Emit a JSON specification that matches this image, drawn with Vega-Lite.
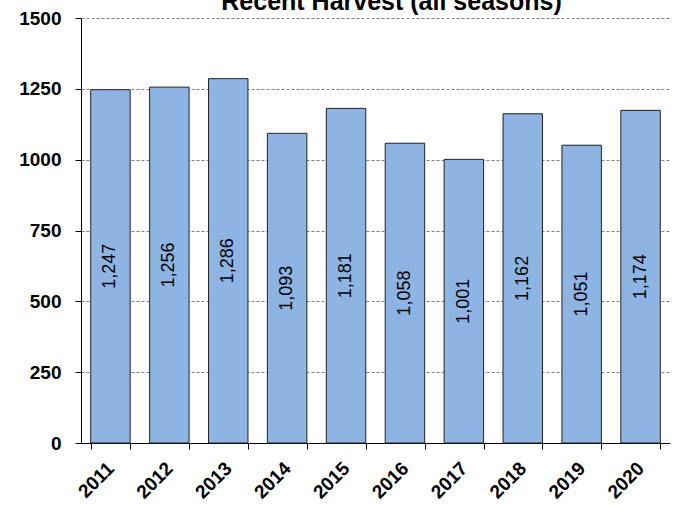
{
  "$schema": "https://vega.github.io/schema/vega-lite/v6.json",
  "width": 589,
  "height": 425,
  "autosize": "none",
  "padding": {"left": 81, "top": 18, "right": 5, "bottom": 63},
  "background": "white",
  "title": {
    "text": "Recent Harvest (all seasons)",
    "font": "Liberation Sans",
    "fontSize": 25,
    "fontWeight": "bold",
    "color": "black",
    "frame": "group",
    "offset": -6,
    "dx": 16
  },
  "data": {
    "values": [
      {"year": "2011", "harvest": 1247},
      {"year": "2012", "harvest": 1256},
      {"year": "2013", "harvest": 1286},
      {"year": "2014", "harvest": 1093},
      {"year": "2015", "harvest": 1181},
      {"year": "2016", "harvest": 1058},
      {"year": "2017", "harvest": 1001},
      {"year": "2018", "harvest": 1162},
      {"year": "2019", "harvest": 1051},
      {"year": "2020", "harvest": 1174}
    ]
  },
  "encoding": {
    "x": {
      "field": "year",
      "type": "ordinal",
      "scale": {"paddingInner": 0.33, "paddingOuter": 0.165},
      "axis": {
        "title": null,
        "labelAngle": -45,
        "labelAlign": "right",
        "labelBaseline": "middle",
        "labelFont": "Liberation Sans",
        "labelFontSize": 19,
        "labelFontWeight": "bold",
        "labelColor": "black",
        "labelPadding": 16,
        "tickBand": "extent",
        "tickSize": 6,
        "tickColor": "black",
        "domainColor": "black",
        "grid": false
      }
    }
  },
  "layer": [
    {
      "mark": {"type": "bar", "fill": "#8DB4E2", "stroke": "#222222", "strokeWidth": 1},
      "encoding": {
        "y": {
          "field": "harvest",
          "type": "quantitative",
          "scale": {"domain": [0, 1500], "nice": false},
          "axis": {
            "title": null,
            "values": [0, 250, 500, 750, 1000, 1250, 1500],
            "format": "d",
            "grid": true,
            "gridDash": [3, 2],
            "gridColor": "#808080",
            "gridWidth": 1,
            "tickSize": 6,
            "tickColor": "black",
            "domainColor": "black",
            "labelFont": "Liberation Sans",
            "labelFontSize": 19,
            "labelFontWeight": "bold",
            "labelColor": "black",
            "labelPadding": 14
          }
        }
      }
    },
    {
      "mark": {"type": "text", "angle": 270, "fontSize": 18, "font": "Liberation Sans", "color": "black", "align": "center", "baseline": "middle"},
      "encoding": {
        "y": {"field": "harvest", "type": "quantitative", "scale": {"domain": [0, 3000], "nice": false}, "axis": null},
        "text": {"field": "harvest", "type": "quantitative", "format": ",d"}
      }
    }
  ],
  "resolve": {"scale": {"y": "independent"}},
  "config": {"view": {"stroke": null}}
}
